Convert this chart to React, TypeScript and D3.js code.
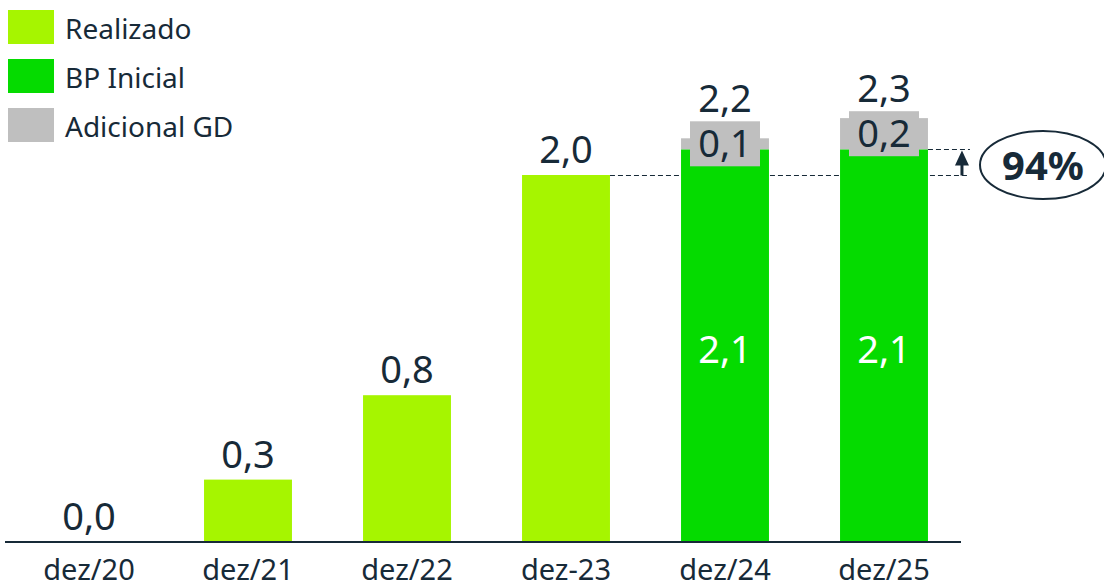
import * as d3 from "d3";

const categories = ["dez/20", "dez/21", "dez/22", "dez-23", "dez/24", "dez/25"];
const realizado = [0.0, 0.34, 0.8, 2.0, 0, 0];
const bpInicial = [0, 0, 0, 0, 2.14, 2.14];
const adicionalGD = [0, 0, 0, 0, 0.06, 0.17];
const topLabels = ["0,0", "0,3", "0,8", "2,0", "2,2", "2,3"];
const bpLabels = ["", "", "", "", "2,1", "2,1"];
const gdLabels = ["", "", "", "", "0,1", "0,2"];
const legendItems = [
  { name: "Realizado", color: "#a6f500" },
  { name: "BP Inicial", color: "#05db00" },
  { name: "Adicional GD", color: "#bfbfbf" },
];
const growthLabel = "94%";

const W = 1104;
const H = 587;
const dark = "#172a38";
const font = "'Noto Sans', sans-serif";

export default function App() {
  const x = d3.scaleBand<string>().domain(categories).range([9.5, 963.5]).paddingInner(0.447).paddingOuter(0.2235);
  const y = d3.scaleLinear().domain([0, 2.5]).range([542, 83.25]);
  const bw = x.bandwidth();

  const dez23 = categories[3];
  const dez25 = categories[5];
  const lowY = Math.round(y(realizado[3])) + 0.5;
  const highY = Math.round(y(bpInicial[5])) + 0.5;
  const arrowX = (x(dez25) as number) + bw + 34;

  return (
    <svg width={W} height={H} style={{ position: "absolute", left: 0, top: 0, background: "#fff" }}>
      {/* reference dashed lines */}
      <line x1={(x(dez23) as number) + bw} x2={arrowX + 8} y1={lowY} y2={lowY} stroke={dark} strokeDasharray="5,3" strokeWidth={1} />
      <line x1={(x(dez25) as number) + bw} x2={arrowX + 8} y1={highY} y2={highY} stroke={dark} strokeDasharray="5,3" strokeWidth={1} />

      {categories.map((c, i) => {
        const bx = x(c) as number;
        const cx = bx + bw / 2;
        const r = realizado[i];
        const b = bpInicial[i];
        const g = adicionalGD[i];
        const total = r + b + g;
        let labelY = y(total) - 12;
        const segTop = y(b + g);
        const segMid = (y(b) + segTop) / 2;
        if (g > 0) labelY = segMid - 22 - 10;
        return (
          <g key={c}>
            {r > 0 && <rect x={bx} width={bw} y={y(r)} height={y(0) - y(r)} fill={legendItems[0].color} />}
            {b > 0 && <rect x={bx} width={bw} y={y(b)} height={y(0) - y(b)} fill={legendItems[1].color} />}
            {g > 0 && (
              <>
                <rect x={bx} width={bw} y={segTop} height={y(b) - segTop} fill={legendItems[2].color} />
                <rect x={cx - 35} width={70} y={segMid - 22.5} height={45} fill={legendItems[2].color} />
                <text x={cx} y={segMid + 13} textAnchor="middle" fontSize={38} fill={dark} fontFamily={font}>
                  {gdLabels[i]}
                </text>
              </>
            )}
            {b > 0 && (
              <text x={cx} y={(y(0) + y(b)) / 2 + 17} textAnchor="middle" fontSize={38} fill="#fff" fontFamily={font}>
                {bpLabels[i]}
              </text>
            )}
            <text x={cx} y={labelY} textAnchor="middle" fontSize={38} fill={dark} fontFamily={font}>
              {topLabels[i]}
            </text>
            <text x={cx} y={580} textAnchor="middle" fontSize={29} fill={dark} fontFamily={font}>
              {c}
            </text>
          </g>
        );
      })}

      <line x1={5} x2={961} y1={y(0)} y2={y(0)} stroke={dark} strokeWidth={2} />

      {/* arrow */}
      <line x1={arrowX} x2={arrowX} y1={lowY} y2={highY + 12} stroke={dark} strokeWidth={3} />
      <path d={`M${arrowX},${highY + 1} L${arrowX - 7},${highY + 16} L${arrowX + 7},${highY + 16} Z`} fill={dark} />
      <ellipse cx={1043} cy={165} rx={63} ry={34} fill="none" stroke={dark} strokeWidth={2} />
      <text x={1043} y={180} textAnchor="middle" fontSize={40} fontWeight={700} fill={dark} fontFamily={font}>
        {growthLabel}
      </text>

      {legendItems.map((d, i) => (
        <g key={d.name} transform={`translate(8, ${10 + i * 49})`}>
          <rect width={46} height={34} fill={d.color} />
          <text x={57} y={29} fontSize={28} fill={dark} fontFamily={font}>
            {d.name}
          </text>
        </g>
      ))}
    </svg>
  );
}
